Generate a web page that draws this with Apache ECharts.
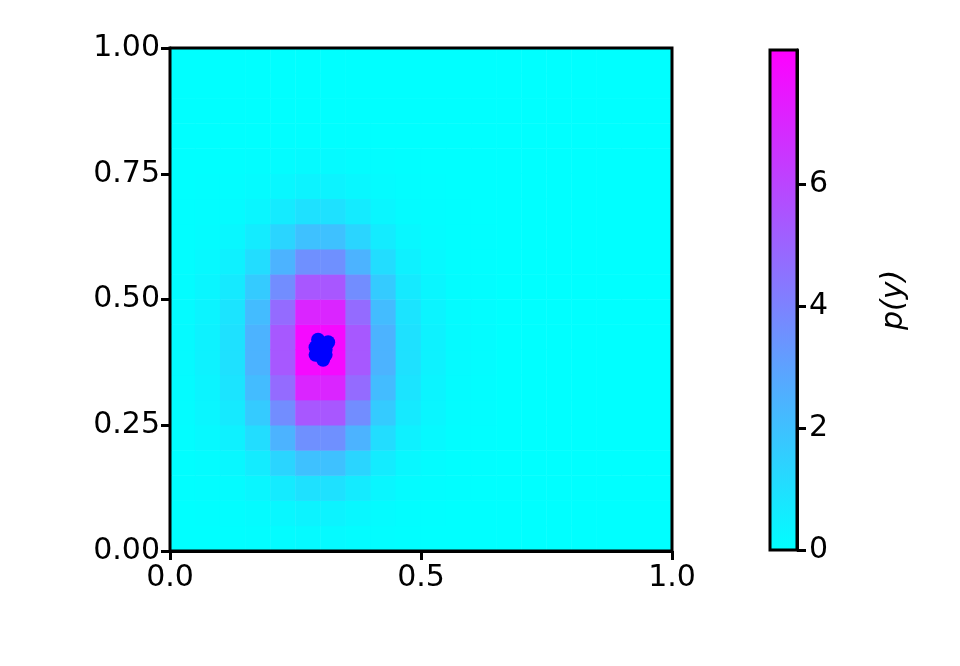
<!DOCTYPE html>
<html><head><meta charset="utf-8">
<script src="https://cdn.jsdelivr.net/npm/echarts@6/dist/echarts.min.js"></script>
<style>html,body{margin:0;background:#fff}#c{width:960px;height:666px}</style>
</head><body><div id="c"></div>
<script>
// density profiles read along x and y through the peak (cell centres 0.025..0.975)
var xProfile = [0.02,0.05,0.12,0.30,0.66,0.97,0.97,0.66,0.30,0.12,0.05,0.02,0.01,0,0,0,0,0,0,0];
var yProfile = [0.02,0.05,0.12,0.25,0.45,0.68,0.88,0.99,0.99,0.88,0.68,0.45,0.25,0.12,0.05,0.02,0.006,0.002,0,0];
var peak = 8.2;
var samples = [[0.29,0.39],[0.30,0.41],[0.31,0.40],[0.295,0.42],[0.305,0.38],[0.315,0.415],[0.29,0.405],[0.31,0.39],[0.30,0.40]];
var cbTicks = [0, 2, 4, 6];

var cells = [];
for (var i = 0; i < xProfile.length; i++)
  for (var j = 0; j < yProfile.length; j++)
    cells.push([i, j, peak * xProfile[i] * yProfile[j]]);
var cats = xProfile.map(function (_, k) { return k; });

var txt = { color: '#000', fontSize: 30, fontFamily: 'DejaVu Sans' };
var line = { color: '#000', width: 3 };
var chart = echarts.init(document.getElementById('c'));
chart.setOption({
  animation: false,
  grid: [
    { left: 170, top: 48, width: 502, height: 503 },
    { left: 170, top: 48, width: 502, height: 503 },
    { left: 770, top: 50, width: 27, height: 500 }
  ],
  xAxis: [
    { type: 'category', data: cats, gridIndex: 0, show: false },
    { type: 'value', gridIndex: 1, min: 0, max: 1, interval: 0.5,
      axisLine: { lineStyle: line },
      axisTick: { length: 9, lineStyle: line },
      axisLabel: Object.assign({ margin: 12, formatter: function (v) { return v.toFixed(1); } }, txt),
      splitLine: { show: false } },
    { type: 'value', gridIndex: 2, min: 0, max: 1, show: false }
  ],
  yAxis: [
    { type: 'category', data: cats, gridIndex: 0, show: false },
    { type: 'value', gridIndex: 1, min: 0, max: 1, interval: 0.25,
      axisLine: { show: true, lineStyle: line },
      axisTick: { show: true, length: 9, lineStyle: line },
      axisLabel: Object.assign({ margin: 10, formatter: function (v) { return v.toFixed(2); } }, txt),
      splitLine: { show: false } },
    { type: 'value', gridIndex: 2, min: 0, max: peak, interval: 2, position: 'right',
      axisLine: { show: true, onZero: false, lineStyle: line },
      axisTick: { show: true, inside: false, length: 9, lineStyle: line, customValues: cbTicks },
      axisLabel: Object.assign({ margin: 12, customValues: cbTicks }, txt),
      splitLine: { show: false },
      name: 'p(y)', nameLocation: 'middle', nameGap: 82, nameRotate: 90,
      nameTextStyle: Object.assign({}, txt, { fontStyle: 'italic' }) }
  ],
  visualMap: { show: false, min: 0, max: peak, seriesIndex: 0, inRange: { color: ['#00ffff', '#ff00ff'] } },
  graphic: [
    { type: 'rect', shape: { x: 770, y: 50, width: 27, height: 500 }, z: -1,
      style: { fill: new echarts.graphic.LinearGradient(0, 1, 0, 0, [{ offset: 0, color: '#00ffff' }, { offset: 1, color: '#ff00ff' }]),
               stroke: '#000', lineWidth: 3 } },
    { type: 'rect', shape: { x: 170, y: 48, width: 502, height: 503 }, z: 100,
      style: { fill: 'none', stroke: '#000', lineWidth: 3 } }
  ],
  series: [
    { type: 'heatmap', xAxisIndex: 0, yAxisIndex: 0, data: cells, progressive: 0 },
    { type: 'scatter', xAxisIndex: 1, yAxisIndex: 1, data: samples, symbolSize: 14,
      itemStyle: { color: '#0000ff', opacity: 1 }, z: 5 }
  ]
});
</script></body></html>
